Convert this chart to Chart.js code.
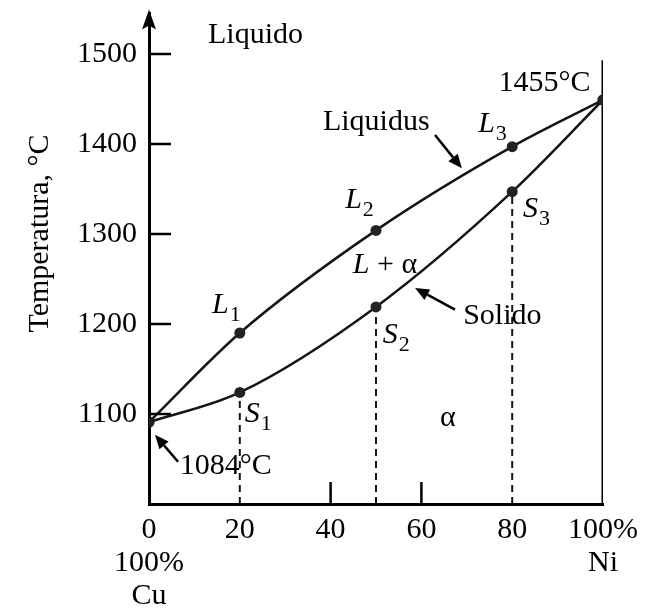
<!DOCTYPE html>
<html>
<head>
<meta charset="utf-8">
<script src="https://cdn.jsdelivr.net/npm/chart.js@4.4.1/dist/chart.umd.min.js"></script>
<style>
  html, body { margin: 0; padding: 0; background: #fff; }
  #wrap { width: 650px; height: 608px; }
</style>
</head>
<body>
<div id="wrap"><canvas id="c" width="650" height="608"></canvas></div>
<script>
// ---- data ----
const xPct = [0, 20, 50, 80, 100];                 // % Ni
const liquidus = [1091, 1190, 1304, 1397, 1449];   // °C
const solidus = [1091, 1124, 1219, 1347, 1449];    // °C
const dropX = [20, 50, 80];                          // compositions with dashed drop lines
const dropTop = [1124, 1219, 1347];                  // solidus temps at those compositions
const rightEdgeTop = 1493;                           // top of the 100% Ni vertical line
const yTicks = [1100, 1200, 1300, 1400, 1500];
const xTicks = [0, 20, 40, 60, 80, 100];
const xTickLabels = [['0', '100%', 'Cu'], '20', '40', '60', '80', ['100%', 'Ni']];
const innerXTicks = [40, 60];
const yTitle = 'Temperatura, °C';

const SERIF = '"Liberation Serif", "DejaVu Serif", serif';
const INK = '#151515';
const FS = 30;

// text annotations in data coordinates: [text, x, y, kind]
const notes = [
  ['Liquido', 13.0, 1512, 'plain'],
  ['Liquidus', 38.3, 1416, 'plain'],
  ['Solido', 69.2, 1200, 'plain'],
  ['1455°C', 77.0, 1459, 'plain'],
  ['1084°C', 6.8, 1033, 'plain'],
  ['α', 64.1, 1087, 'plain'],
  ['L + α', 44.9, 1257, 'lalpha'],
  ['L|1', 13.9, 1212, 'sub'],
  ['L|2', 43.2, 1329, 'sub'],
  ['L|3', 72.5, 1413, 'sub'],
  ['S|1', 21.1, 1091, 'sub'],
  ['S|2', 51.5, 1179, 'sub'],
  ['S|3', 82.4, 1319, 'sub']
];
// arrows in data coordinates: [x0, y0, x1(tip), y1(tip)]
const arrows = [
  [6.4, 1047, 1.3, 1077],
  [63.0, 1410, 68.9, 1373],
  [67.4, 1216, 58.6, 1240]
];

const pts = (xs, ys) => xs.map((x, i) => ({ x: x, y: ys[i] }));

const datasets = [
  {
    data: pts(xPct, liquidus), borderColor: INK, borderWidth: 2.5,
    cubicInterpolationMode: 'monotone', pointRadius: 5.5, pointBackgroundColor: '#222',
    pointBorderWidth: 0
  },
  {
    data: pts(xPct, solidus), borderColor: INK, borderWidth: 2.5,
    cubicInterpolationMode: 'monotone', pointRadius: 5.5, pointBackgroundColor: '#222',
    pointBorderWidth: 0
  },
  {
    data: [{ x: 100, y: 1000 }, { x: 100, y: rightEdgeTop }], borderColor: '#000',
    borderWidth: 3, pointRadius: 0
  }
];
dropX.forEach((x, i) => {
  datasets.push({
    data: [{ x: x, y: 1000 }, { x: x, y: dropTop[i] }], borderColor: INK,
    borderWidth: 2, borderDash: [7, 5], pointRadius: 0
  });
});

const decor = {
  id: 'decor',
  afterDraw(chart) {
    const ctx = chart.ctx, xs = chart.scales.x, ys = chart.scales.y, a = chart.chartArea;
    ctx.save();
    ctx.strokeStyle = '#000';
    ctx.fillStyle = '#000';
    // inner ticks
    ctx.lineWidth = 2.5;
    yTicks.forEach(v => {
      const y = ys.getPixelForValue(v);
      ctx.beginPath(); ctx.moveTo(a.left, y); ctx.lineTo(a.left + 22, y); ctx.stroke();
    });
    innerXTicks.forEach(v => {
      const x = xs.getPixelForValue(v);
      ctx.beginPath(); ctx.moveTo(x, a.bottom); ctx.lineTo(x, a.bottom - 22); ctx.stroke();
    });
    // y axis arrow head
    ctx.beginPath();
    ctx.moveTo(a.left, a.top - 4);
    ctx.lineTo(a.left - 7, a.top + 16);
    ctx.lineTo(a.left, a.top + 12);
    ctx.lineTo(a.left + 7, a.top + 16);
    ctx.closePath(); ctx.fill();
    // y title
    ctx.save();
    ctx.translate(a.left - 111, a.top + 220);
    ctx.rotate(-Math.PI / 2);
    ctx.font = FS + 'px ' + SERIF;
    ctx.textAlign = 'center'; ctx.textBaseline = 'alphabetic';
    ctx.fillText(yTitle, 0, 10);
    ctx.restore();
    // notes
    ctx.textAlign = 'left'; ctx.textBaseline = 'alphabetic';
    notes.forEach(([t, xd, yd, kind]) => {
      const x = xs.getPixelForValue(xd), y = ys.getPixelForValue(yd);
      if (kind === 'plain') {
        ctx.font = FS + 'px ' + SERIF; ctx.fillText(t, x, y);
      } else if (kind === 'sub') {
        const [m, s] = t.split('|');
        ctx.font = 'italic ' + FS + 'px ' + SERIF; ctx.fillText(m, x, y);
        const w = ctx.measureText(m).width;
        ctx.font = '22px ' + SERIF; ctx.fillText(s, x + w + 1, y + 8);
      } else {
        ctx.font = 'italic ' + FS + 'px ' + SERIF; ctx.fillText('L', x, y);
        const w = ctx.measureText('L').width;
        ctx.font = FS + 'px ' + SERIF; ctx.fillText(' + α', x + w, y);
      }
    });
    // arrows
    ctx.lineWidth = 2.5;
    arrows.forEach(([x0d, y0d, x1d, y1d]) => {
      const x0 = xs.getPixelForValue(x0d), y0 = ys.getPixelForValue(y0d);
      const x1 = xs.getPixelForValue(x1d), y1 = ys.getPixelForValue(y1d);
      const ang = Math.atan2(y1 - y0, x1 - x0);
      const hl = 14, hw = 6;
      const bx = x1 - hl * Math.cos(ang), by = y1 - hl * Math.sin(ang);
      ctx.beginPath(); ctx.moveTo(x0, y0); ctx.lineTo(bx, by); ctx.stroke();
      ctx.beginPath();
      ctx.moveTo(x1, y1);
      ctx.lineTo(bx + hw * Math.sin(ang), by - hw * Math.cos(ang));
      ctx.lineTo(bx - hw * Math.sin(ang), by + hw * Math.cos(ang));
      ctx.closePath(); ctx.fill();
    });
    ctx.restore();
  }
};

new Chart(document.getElementById('c'), {
  type: 'line',
  data: { datasets: datasets },
  options: {
    responsive: false,
    animation: false,
    events: [],
    layout: { padding: { top: 13.5, right: 47, left: 0, bottom: 0 } },
    plugins: { legend: { display: false }, tooltip: { enabled: false } },
    scales: {
      x: {
        type: 'linear', min: 0, max: 100,
        afterFit(s) { s.height = 104; s.paddingLeft = 0; s.paddingRight = 0; },
        afterBuildTicks(s) { s.ticks = xTicks.map(v => ({ value: v })); },
        grid: { display: false, drawTicks: false },
        border: { display: true, width: 3, color: '#000' },
        ticks: {
          autoSkip: false, maxRotation: 0, padding: 10, color: '#000',
          font: { family: SERIF, size: FS, lineHeight: 1.1 },
          callback: (v) => { const i = xTicks.indexOf(v); return i >= 0 ? xTickLabels[i] : ''; }
        }
      },
      y: {
        type: 'linear', min: 1000, max: 1545,
        afterFit(s) { s.width = 149; s.paddingTop = 0; s.paddingBottom = 0; },
        afterBuildTicks(s) { s.ticks = yTicks.map(v => ({ value: v })); },
        grid: { display: false, drawTicks: false },
        border: { display: true, width: 3, color: '#000' },
        ticks: {
          padding: 12, color: '#000',
          font: { family: SERIF, size: FS },
          callback: (v) => String(v)
        }
      }
    }
  },
  plugins: [decor]
});
</script>
</body>
</html>
